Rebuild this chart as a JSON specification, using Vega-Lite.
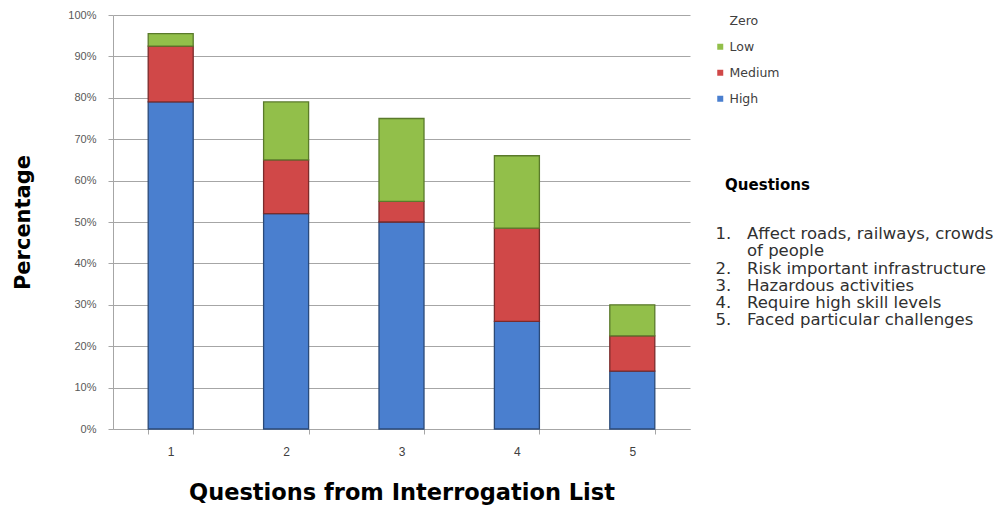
{
  "$schema": "https://vega.github.io/schema/vega-lite/v6.json",
  "autosize": "none",
  "width": 577,
  "height": 414,
  "padding": {"left": 113, "top": 15, "right": 310, "bottom": 80},
  "background": "white",
  "config": {"font": "Liberation Sans", "view": {"stroke": null}},
  "layer": [
    {
      "data": {"values": [
        {"Question": "1", "Level": "High", "Value": 0.79},
        {"Question": "1", "Level": "Medium", "Value": 0.135},
        {"Question": "1", "Level": "Low", "Value": 0.03},
        {"Question": "1", "Level": "Zero", "Value": 0},
        {"Question": "2", "Level": "High", "Value": 0.52},
        {"Question": "2", "Level": "Medium", "Value": 0.13},
        {"Question": "2", "Level": "Low", "Value": 0.14},
        {"Question": "2", "Level": "Zero", "Value": 0},
        {"Question": "3", "Level": "High", "Value": 0.50},
        {"Question": "3", "Level": "Medium", "Value": 0.05},
        {"Question": "3", "Level": "Low", "Value": 0.20},
        {"Question": "3", "Level": "Zero", "Value": 0},
        {"Question": "4", "Level": "High", "Value": 0.26},
        {"Question": "4", "Level": "Medium", "Value": 0.225},
        {"Question": "4", "Level": "Low", "Value": 0.175},
        {"Question": "4", "Level": "Zero", "Value": 0},
        {"Question": "5", "Level": "High", "Value": 0.14},
        {"Question": "5", "Level": "Medium", "Value": 0.085},
        {"Question": "5", "Level": "Low", "Value": 0.075},
        {"Question": "5", "Level": "Zero", "Value": 0}
      ]},
      "transform": [
        {"calculate": "indexof(['High', 'Medium', 'Low', 'Zero'], datum.Level)", "as": "StackRank"}
      ],
      "mark": {"type": "bar", "strokeWidth": 1.3},
      "encoding": {
        "x": {
          "field": "Question", "type": "ordinal",
          "scale": {"paddingInner": 0.61, "paddingOuter": 0.305},
          "axis": {
            "title": "Questions from Interrogation List",
            "labelAngle": 0, "tickBand": "extent",
            "domainColor": "#a6a6a6", "tickColor": "#a6a6a6", "tickSize": 5,
            "labelFontSize": 12, "labelColor": "#404040", "labelPadding": 12,
            "titleFont": "DejaVu Sans", "titleFontSize": 22.5, "titleFontWeight": "bold", "titleColor": "#000000", "titlePadding": 24
          }
        },
        "y": {
          "field": "Value", "type": "quantitative", "stack": "zero",
          "scale": {"domain": [0, 1]},
          "axis": {
            "title": "Percentage",
            "values": [0, 0.1, 0.2, 0.3, 0.4, 0.5, 0.6, 0.7, 0.8, 0.9, 1],
            "format": ".0%", "grid": true, "gridColor": "#a6a6a6",
            "domainColor": "#a6a6a6", "tickColor": "#a6a6a6", "tickSize": 5,
            "labelFontSize": 11, "labelColor": "#595959", "labelPadding": 12,
            "titleFont": "DejaVu Sans", "titleFontSize": 21, "titleFontWeight": "bold", "titleColor": "#000000", "titlePadding": 34
          }
        },
        "order": {"field": "StackRank", "type": "quantitative", "sort": "ascending"},
        "color": {
          "field": "Level", "type": "nominal",
          "scale": {"domain": ["High", "Medium", "Low", "Zero"], "range": ["#4a7fcf", "#d04848", "#92bf4a", "#ffffff"]},
          "legend": {
            "orient": "none", "legendX": 601, "legendY": -0.5, "title": null,
            "values": ["Zero", "Low", "Medium", "High"],
            "symbolType": "square", "symbolSize": 36, "symbolStrokeWidth": 0,
            "labelFont": "DejaVu Sans", "labelFontSize": 12.5, "labelColor": "#404040", "labelOffset": 3, "rowPadding": 13
          }
        },
        "stroke": {
          "field": "Level", "type": "nominal",
          "scale": {"domain": ["High", "Medium", "Low", "Zero"], "range": ["#2b4a78", "#7a2b2b", "#5a7a2b", "rgba(0,0,0,0)"]},
          "legend": null
        }
      }
    },
    {
      "data": {"values": [
        {"Label": "1.\u00a0\u00a0\u00a0Affect roads, railways, crowds"},
        {"Label": "\u200b\u00a0\u00a0\u00a0\u00a0\u00a0\u00a0of people"},
        {"Label": "2.\u00a0\u00a0\u00a0Risk important infrastructure"},
        {"Label": "3.\u00a0\u00a0\u00a0Hazardous activities"},
        {"Label": "4.\u00a0\u00a0\u00a0Require high skill levels"},
        {"Label": "5.\u00a0\u00a0\u00a0Faced particular challenges"}
      ]},
      "mark": {"type": "point", "opacity": 0},
      "encoding": {
        "shape": {
          "field": "Label", "type": "nominal",
          "scale": {
            "domain": [
              "1.\u00a0\u00a0\u00a0Affect roads, railways, crowds",
              "\u200b\u00a0\u00a0\u00a0\u00a0\u00a0\u00a0of people",
              "2.\u00a0\u00a0\u00a0Risk important infrastructure",
              "3.\u00a0\u00a0\u00a0Hazardous activities",
              "4.\u00a0\u00a0\u00a0Require high skill levels",
              "5.\u00a0\u00a0\u00a0Faced particular challenges"
            ],
            "range": ["circle", "circle", "circle", "circle", "circle", "circle"]
          },
          "legend": {
            "orient": "none", "legendX": 586, "legendY": 163,
            "title": "\u200b\u00a0\u00a0\u00a0\u00a0\u00a0Questions",
            "titleFont": "DejaVu Sans", "titleFontSize": 15, "titleFontWeight": "bold", "titleColor": "#000000", "titlePadding": 33,
            "symbolSize": 1, "symbolOpacity": 0, "symbolStrokeWidth": 0, "labelOffset": 0.01,
            "labelFont": "DejaVu Sans", "labelFontSize": 16.5, "labelColor": "#303030", "labelLimit": 400, "rowPadding": 0.2
          }
        }
      }
    }
  ]
}
